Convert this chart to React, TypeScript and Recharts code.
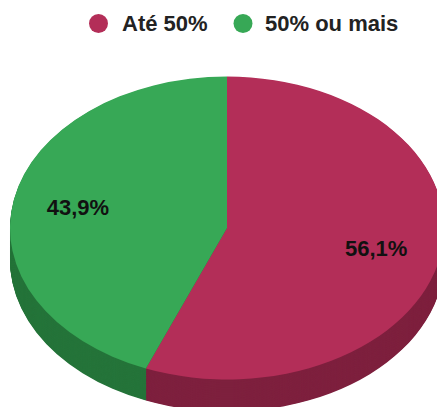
import React from 'react';
import { PieChart, Pie, Cell } from 'recharts';

const categories = ['Até 50%', '50% ou mais'];
const values = [56.1, 43.9];
const topColors = ['#b32e58', '#37a856'];
const sideColors = ['#7e203e', '#25743a'];

const W = 437;
const H = 407;
const SQUASH = 0.698; // vertical squash of the tilted disc
const CX = 227;
const CY = 228 / SQUASH;
const R = 217;
const DEPTH = 32 / SQUASH;
const RAD = Math.PI / 180;
const FONT = '"Liberation Sans", Arial, sans-serif';

const data = categories.map((name, i) => ({ name, value: values[i] }));
const depthSteps = Array.from({ length: Math.round(DEPTH) }, (_, i) => Math.round(DEPTH) - i);

const fmt = (v: number) => v.toFixed(1).replace('.', ',') + '%';

const renderLabel = (props: any) => {
  const { cx, cy, midAngle, outerRadius, value } = props;
  const r = outerRadius * 0.7;
  const x = cx + r * Math.cos(-midAngle * RAD);
  const y = cy + r * Math.sin(-midAngle * RAD);
  return (
    <text
      x={x}
      y={y}
      transform={`translate(${x},${y}) scale(1,${1 / SQUASH}) translate(${-x},${-y})`}
      textAnchor="middle"
      dominantBaseline="central"
      fill="#111"
      fontSize={22}
      fontWeight="bold"
      fontFamily={FONT}
    >
      {fmt(value)}
    </text>
  );
};

const Legend3D: React.FC = () => {
  const items = [
    { cx: 98.5, tx: 122 },
    { cx: 243, tx: 265 },
  ];
  return (
    <svg width={W} height={45} style={{ position: 'absolute', left: 0, top: 0 }}>
      {categories.map((c, i) => (
        <g key={c}>
          <circle cx={items[i].cx} cy={23.5} r={9.5} fill={topColors[i]} />
          <text x={items[i].tx} y={31} fontSize={22} fontWeight="bold" fill="#222" fontFamily={FONT}>
            {c}
          </text>
        </g>
      ))}
    </svg>
  );
};

const App: React.FC = () => {
  return (
    <div style={{ position: 'fixed', left: 0, top: 0, width: W, height: H, overflow: 'hidden', background: '#fff' }}>
      <div style={{ position: 'absolute', left: 0, top: 0, transform: `scaleY(${SQUASH})`, transformOrigin: 'top left' }}>
        <PieChart width={W} height={620} margin={{ top: 0, right: 0, bottom: 0, left: 0 }}>
          {depthSteps.map((d) => (
            <Pie
              key={'side' + d}
              data={data}
              dataKey="value"
              cx={CX}
              cy={CY + d}
              outerRadius={R}
              startAngle={90}
              endAngle={-270}
              stroke="none"
              isAnimationActive={false}
            >
              {data.map((e, i) => (
                <Cell key={e.name} fill={sideColors[i]} />
              ))}
            </Pie>
          ))}
          <Pie
            data={data}
            dataKey="value"
            cx={CX}
            cy={CY}
            outerRadius={R}
            startAngle={90}
            endAngle={-270}
            stroke="none"
            label={renderLabel}
            labelLine={false}
            isAnimationActive={false}
          >
            {data.map((e, i) => (
              <Cell key={e.name} fill={topColors[i]} />
            ))}
          </Pie>
        </PieChart>
      </div>
      <Legend3D />
    </div>
  );
};

export default App;
